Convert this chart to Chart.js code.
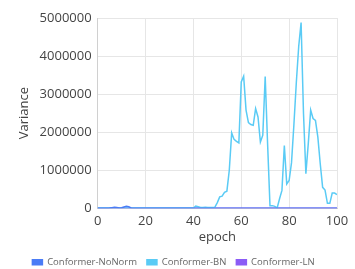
<!DOCTYPE html>
<html>
<head>
<meta charset="utf-8">
<script src="https://cdn.jsdelivr.net/npm/chart.js@4"></script>
<style>
  html, body { margin: 0; padding: 0; background: #fff; }
  #wrap { width: 355px; height: 269px; }
</style>
</head>
<body>
<div id="wrap"><canvas id="chart"></canvas></div>
<script>
// 数据：每个 epoch 一个点 (0..100)
const epochs = Array.from({ length: 101 }, (_, i) => i);

const noNorm = [
  0, 0, 0, 0, 0, 5000, 15000, 25000, 20000, 10000,
  15000, 35000, 55000, 40000, 10000, 0, 0, 0, 0, 0,
  0, 0, 0, 0, 0, 0, 0, 0, 0, 0,
  0, 0, 0, 0, 0, 0, 0, 0, 0, 0,
  0, 0, 0, 0, 0, 0, 0, 0, 0, 0,
  0, 0, 0, 0, 0, 0, 0, 0, 0, 0,
  0, 0, 0, 0, 0, 0, 0, 0, 0, 0,
  0, 0, 0, 0, 0, 0, 0, 0, 0, 0,
  0, 0, 0, 0, 0, 0, 0, 0, 0, 0,
  0, 0, 0, 0, 0, 0, 0, 0, 0, 0,
  0
];

const bn = [
  5000, 5000, 5000, 5000, 5000, 5000, 5000, 5000, 5000, 5000,
  5000, 5000, 5000, 5000, 5000, 5000, 5000, 5000, 5000, 5000,
  5000, 5000, 5000, 5000, 5000, 5000, 5000, 5000, 5000, 5000,
  5000, 5000, 5000, 5000, 5000, 5000, 5000, 5000, 5000, 5000,
  5000, 60000, 40000, 20000, 20000, 30000, 20000, 20000, 20000, 30000,
  150000, 300000, 320000, 420000, 450000, 1000000, 1980000, 1810000, 1760000, 1720000,
  3320000, 3470000, 2580000, 2250000, 2200000, 2180000, 2620000, 2400000, 1740000, 1920000,
  3460000, 1700000, 70000, 70000, 50000, 10000, 250000, 470000, 1650000, 640000,
  730000, 1200000, 2200000, 3300000, 4250000, 4880000, 2500000, 910000, 1700000, 2580000,
  2360000, 2310000, 1870000, 1170000, 550000, 480000, 130000, 130000, 400000, 400000,
  360000
];

const ln = Array.from({ length: 101 }, () => 3000);

const seriesNames = ['Conformer-NoNorm', 'Conformer-BN', 'Conformer-LN'];
const seriesColors = ['#4a7cf6', '#5acbf5', '#8b5cf6'];
const xTicks = [0, 20, 40, 60, 80, 100];
const yTicks = [0, 1000000, 2000000, 3000000, 4000000, 5000000];

const toPoints = arr => arr.map((v, i) => ({ x: epochs[i], y: v }));

Chart.defaults.font.family = '"Open Sans", "Noto Sans", sans-serif';
Chart.defaults.color = '#444';

new Chart(document.getElementById('chart'), {
  type: 'line',
  data: {
    datasets: [noNorm, bn, ln].map((arr, i) => ({
      label: seriesNames[i],
      data: toPoints(arr),
      borderColor: seriesColors[i],
      backgroundColor: seriesColors[i],
      borderWidth: 1.5,
      pointRadius: 0,
      tension: 0,
      fill: false
    }))
  },
  options: {
    responsive: true,
    maintainAspectRatio: false,
    animation: false,
    layout: { padding: { left: 10, right: 18, top: 18, bottom: -8 } },
    plugins: {
      tooltip: { enabled: false },
      legend: {
        position: 'bottom',
        labels: {
          boxWidth: 10, boxHeight: 5, padding: 10,
          color: '#666', font: { size: 9.5 }
        }
      }
    },
    scales: {
      x: {
        type: 'linear',
        min: 0, max: 100,
        afterBuildTicks: ax => { ax.ticks = xTicks.map(v => ({ value: v })); },
        title: { display: true, text: 'epoch', font: { size: 13 }, padding: { top: -4, bottom: 2 } },
        ticks: { font: { size: 13 }, maxRotation: 0, padding: 5 },
        grid: { color: '#e6e6e6', drawTicks: false },
        border: { color: '#d0d0d0' }
      },
      y: {
        min: 0, max: 5000000,
        afterBuildTicks: ax => { ax.ticks = yTicks.map(v => ({ value: v })); },
        title: { display: true, text: 'Variance', font: { size: 13 }, padding: { top: 6, bottom: 2 } },
        ticks: { font: { size: 13 }, padding: 6, callback: v => String(v) },
        grid: { color: '#e6e6e6', drawTicks: false },
        border: { color: '#d0d0d0' }
      }
    }
  }
});
</script>
</body>
</html>
